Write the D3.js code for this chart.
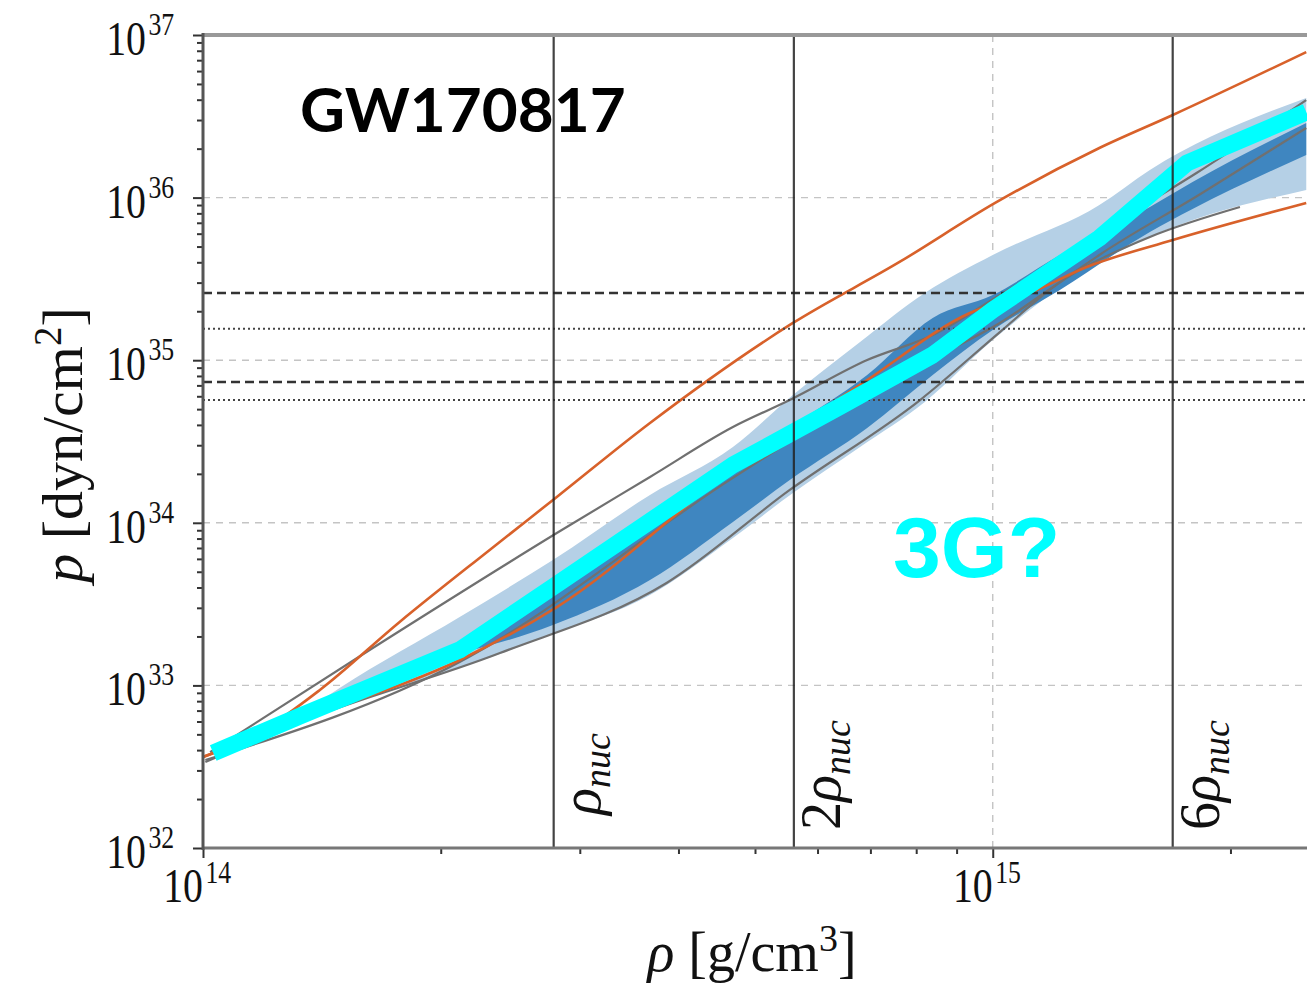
<!DOCTYPE html>
<html>
<head>
<meta charset="utf-8">
<script src="https://cdn.jsdelivr.net/npm/d3@7"></script>
<style>
  body { margin: 0; background: #fff; }
  text { font-family: "Liberation Serif", serif; fill: #111; }
</style>
</head>
<body>
<svg id="chart"></svg>
<script>
// values, stored as log10: rho in g/cm^3, p in dyn/cm^2
const cyanLogRho = [14.013, 14.123, 14.325, 14.443, 14.671, 14.810, 14.924, 15.000, 15.135, 15.246, 15.397];
const cyanLogP   = [32.584, 32.812, 33.218, 33.605, 34.355, 34.724, 35.032, 35.309, 35.752, 36.213, 36.526];

const stiffLogRho = [14.000, 14.072, 14.148, 14.249, 14.363, 14.448, 14.566, 14.747, 14.882, 15.003, 15.135, 15.228, 15.397];
const stiffLogP   = [32.560, 32.713, 32.972, 33.390, 33.833, 34.159, 34.614, 35.229, 35.604, 35.967, 36.305, 36.508, 36.895];

const softLogRho = [14.000, 14.123, 14.325, 14.448, 14.671, 14.841, 14.971, 15.047, 15.119, 15.228, 15.397];
const softLogP   = [32.560, 32.787, 33.156, 33.482, 34.325, 34.878, 35.290, 35.413, 35.573, 35.739, 35.967];

const grayALogRho = [14.009, 14.211, 14.448, 14.566, 14.671, 14.743, 14.841, 14.924, 15.009, 15.135, 15.258, 15.397];
const grayALogP   = [32.590, 33.218, 33.937, 34.282, 34.589, 34.755, 35.001, 35.155, 35.401, 35.788, 36.151, 36.600];
const grayBLogRho = [14.003, 14.123, 14.376, 14.587, 14.743, 14.908, 15.009, 15.072, 15.135, 15.261, 15.397];
const grayBLogP   = [32.529, 32.775, 33.199, 33.630, 34.202, 34.755, 35.173, 35.432, 35.647, 36.016, 36.428];
const grayCLogRho = [14.003, 14.325, 14.671, 14.882, 15.009, 15.110, 15.199, 15.313];
const grayCLogP   = [32.541, 33.144, 34.276, 34.909, 35.229, 35.555, 35.758, 35.942];

const band90LogRho = [14.110, 14.173, 14.325, 14.443, 14.566, 14.671, 14.747, 14.832, 14.914, 15.000, 15.135, 15.199, 15.397];
const band90Hi     = [32.775, 32.984, 33.421, 33.771, 34.171, 34.466, 34.786, 35.112, 35.413, 35.647, 35.954, 36.170, 36.613];
const band90Lo     = [32.763, 32.879, 33.107, 33.316, 33.556, 33.907, 34.183, 34.466, 34.743, 35.124, 35.604, 35.758, 36.047];
const band50LogRho = [14.313, 14.443, 14.566, 14.671, 14.743, 14.841, 14.924, 15.000, 15.085, 15.199, 15.253, 15.397];
const band50Hi     = [33.218, 33.587, 33.968, 34.325, 34.583, 34.909, 35.260, 35.401, 35.647, 35.942, 36.096, 36.459];
const band50Lo     = [33.181, 33.371, 33.648, 34.005, 34.263, 34.583, 34.909, 35.186, 35.432, 35.788, 35.930, 36.262];

const dashedP = [2.59e35, 7.35e34];
const dottedP = [1.56e35, 5.69e34];
const nucRho = [2.78e14, 5.6e14, 1.69e15];
const nucLabels = ["", "2", "6"];
const yTickExp = [32, 33, 34, 35, 36, 37];
const xTickExp = [14, 15];

const width = 1307, height = 989;
const svg = d3.select("#chart").attr("width", width).attr("height", height);

const x = d3.scaleLog().domain([1e14, 2.5e15]).range([203, 1307]);
const y = d3.scaleLog().domain([1e32, 1e37]).range([848, 35]);
const [x0, x1] = x.range(), [y0, y1] = y.range();

svg.append("defs").append("clipPath").attr("id", "clip")
  .append("rect").attr("x", x0).attr("y", y1).attr("width", x1 - x0).attr("height", y0 - y1);

const plot = svg.append("g").attr("clip-path", "url(#clip)");

// light dashed grid
plot.selectAll(".gy").data(yTickExp.slice(1, -1)).join("line")
  .attr("x1", x0).attr("x2", x1)
  .attr("y1", d => y(10 ** d)).attr("y2", d => y(10 ** d))
  .attr("stroke", "#c4c4c4").attr("stroke-width", 1.4).attr("stroke-dasharray", "7,6");
plot.selectAll(".gx").data([15]).join("line")
  .attr("x1", d => x(10 ** d)).attr("x2", d => x(10 ** d))
  .attr("y1", y0).attr("y2", y1)
  .attr("stroke", "#c4c4c4").attr("stroke-width", 1.4).attr("stroke-dasharray", "7,6");

const pts = (lr, lp) => lr.map((r, i) => [10 ** r, 10 ** lp[i]]);
const line = d3.line().x(d => x(d[0])).y(d => y(d[1])).curve(d3.curveMonotoneX);
const band = (lr, lo, hi) => lr.map((r, i) => ({r: 10 ** r, lo: 10 ** lo[i], hi: 10 ** hi[i]}));
const area = d3.area().x(d => x(d.r)).y0(d => y(d.lo)).y1(d => y(d.hi)).curve(d3.curveMonotoneX);

plot.append("path").datum(band(band90LogRho, band90Lo, band90Hi))
  .attr("d", area).attr("fill", "#b5d0e6");
plot.append("path").datum(band(band50LogRho, band50Lo, band50Hi))
  .attr("d", area).attr("fill", "#3f86c0");

[[grayALogRho, grayALogP], [grayBLogRho, grayBLogP], [grayCLogRho, grayCLogP]].forEach(([lr, lp]) => {
  plot.append("path").datum(pts(lr, lp)).attr("d", line)
    .attr("fill", "none").attr("stroke", "#707070").attr("stroke-width", 2.2);
});
[[stiffLogRho, stiffLogP], [softLogRho, softLogP]].forEach(([lr, lp]) => {
  plot.append("path").datum(pts(lr, lp)).attr("d", line)
    .attr("fill", "none").attr("stroke", "#d8612a").attr("stroke-width", 2.6);
});

// pressure bounds
plot.selectAll(".dash").data(dashedP).join("line")
  .attr("x1", x0).attr("x2", x1).attr("y1", d => y(d)).attr("y2", d => y(d))
  .attr("stroke", "#333").attr("stroke-width", 2.6).attr("stroke-dasharray", "9,5");
plot.selectAll(".dot").data(dottedP).join("line")
  .attr("x1", x0).attr("x2", x1).attr("y1", d => y(d)).attr("y2", d => y(d))
  .attr("stroke", "#444").attr("stroke-width", 2).attr("stroke-dasharray", "2,3");

// 3G guess
plot.append("path").datum(pts(cyanLogRho, cyanLogP))
  .attr("d", d3.line().x(d => x(d[0])).y(d => y(d[1])))
  .attr("fill", "none").attr("stroke", "#00ffff").attr("stroke-width", 17)
  .attr("stroke-linejoin", "round");

// nuclear density markers
plot.selectAll(".nuc").data(nucRho).join("line")
  .attr("x1", d => x(d)).attr("x2", d => x(d)).attr("y1", y0).attr("y2", y1)
  .attr("stroke", "#222").attr("stroke-width", 2.2).attr("stroke-opacity", 0.85);

nucRho.forEach((r, i) => {
  const t = svg.append("text")
    .attr("transform", `translate(${x(r) + 46},${i === 0 ? 815 : 830}) rotate(-90)`)
    .attr("font-size", 56);
  if (nucLabels[i]) t.append("tspan").text(nucLabels[i]);
  t.append("tspan").attr("font-style", "italic").text("ρ");
  t.append("tspan").attr("font-style", "italic").attr("font-size", 38).attr("dy", 10).text("nuc");
});

// axes ticks
const yMinor = [], xMinor = [];
for (let e = 32; e < 37; e++) for (let k = 2; k < 10; k++) yMinor.push(k * 10 ** e);
for (let e = 14; e < 16; e++) for (let k = 2; k < 10; k++) if (k * 10 ** e <= 2.5e15) xMinor.push(k * 10 ** e);

const yAxisMinor = svg.append("g").attr("transform", `translate(${x0},0)`)
  .call(d3.axisLeft(y).tickValues(yMinor).tickSize(6).tickFormat(""));
const yAxisMajor = svg.append("g").attr("transform", `translate(${x0},0)`)
  .call(d3.axisLeft(y).tickValues(yTickExp.map(e => 10 ** e)).tickSize(10).tickFormat(""));
const xAxisMinor = svg.append("g").attr("transform", `translate(0,${y0})`)
  .call(d3.axisBottom(x).tickValues(xMinor).tickSize(6).tickFormat(""));
const xAxisMajor = svg.append("g").attr("transform", `translate(0,${y0})`)
  .call(d3.axisBottom(x).tickValues(xTickExp.map(e => 10 ** e)).tickSize(10).tickFormat(""));
[yAxisMinor, yAxisMajor, xAxisMinor, xAxisMajor].forEach(a => {
  a.select(".domain").remove();
  a.selectAll(".tick line").attr("stroke", "#333").attr("stroke-width", 2);
});

// frame
svg.append("line").attr("x1", x0).attr("x2", x1).attr("y1", y1).attr("y2", y1)
  .attr("stroke", "#999").attr("stroke-width", 4);
svg.append("line").attr("x1", x0).attr("x2", x1).attr("y1", y0).attr("y2", y0)
  .attr("stroke", "#777").attr("stroke-width", 3);
svg.append("line").attr("x1", x0).attr("x2", x0).attr("y1", y0 + 2).attr("y2", y1 - 2)
  .attr("stroke", "#555").attr("stroke-width", 3);

// tick labels as 10^n
function powLabel(ax, ay, supDy, e) {
  const g = svg.append("g").attr("transform", `translate(${ax},${ay}) scale(0.83,1)`);
  g.append("text").attr("text-anchor", "end").attr("font-size", 48).text("10");
  g.append("text").attr("x", 3).attr("y", supDy).attr("font-size", 31).text(e);
}
yTickExp.forEach(e => powLabel(146, y(10 ** e) + 20, -20, e));
xTickExp.forEach(e => powLabel(x(10 ** e), y0 + 54, -19, e));

// axis titles
const xt = svg.append("text").attr("x", 752).attr("y", 971).attr("text-anchor", "middle").attr("font-size", 56);
xt.append("tspan").attr("font-style", "italic").text("ρ");
xt.append("tspan").text(" [g/cm");
xt.append("tspan").attr("font-size", 38).attr("dy", -20).text("3");
xt.append("tspan").attr("dy", 20).text("]");

const yt = svg.append("text").attr("transform", "translate(82,445) rotate(-90)")
  .attr("text-anchor", "middle").attr("font-size", 58);
yt.append("tspan").attr("font-style", "italic").text("p");
yt.append("tspan").text(" [dyn/cm");
yt.append("tspan").attr("font-size", 39).attr("dy", -21).text("2");
yt.append("tspan").attr("dy", 21).text("]");

// annotations
svg.append("text").attr("x", 300).attr("y", 132)
  .style("font-family", "Lato, sans-serif").style("font-weight", 700).style("fill", "#000")
  .attr("font-size", 62).text("GW170817");
svg.append("text").attr("x", 893).attr("y", 577)
  .style("font-family", "'Liberation Sans', Arial, sans-serif").style("font-weight", 700).style("fill", "#00ffff")
  .attr("font-size", 86).text("3G?");
</script>
</body>
</html>
